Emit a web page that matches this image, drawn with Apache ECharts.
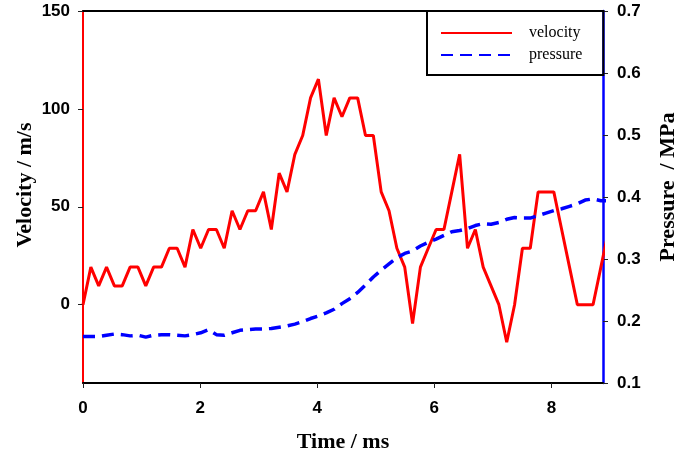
<!DOCTYPE html>
<html>
<head>
<meta charset="utf-8">
<script src="https://cdn.jsdelivr.net/npm/echarts@6/dist/echarts.min.js"></script>
<style>
  html, body { margin: 0; padding: 0; background: #fff; }
  #main { width: 675px; height: 457px; }
</style>
</head>
<body>
<div id="main"></div>
<script>
// 时间 ms
var timeMs = [0, 0.134, 0.268, 0.402, 0.536, 0.67, 0.804, 0.938, 1.072, 1.206,
  1.34, 1.474, 1.608, 1.742, 1.876, 2.01, 2.144, 2.278, 2.412, 2.546,
  2.68, 2.814, 2.948, 3.082, 3.216, 3.35, 3.484, 3.618, 3.752, 3.886,
  4.02, 4.154, 4.288, 4.422, 4.556, 4.69, 4.824, 4.958, 5.092, 5.226,
  5.36, 5.494, 5.628, 5.762, 5.896, 6.03, 6.164, 6.298, 6.432, 6.566,
  6.7, 6.834, 6.968, 7.102, 7.236, 7.37, 7.504, 7.638, 7.772, 7.906,
  8.04, 8.174, 8.308, 8.442, 8.576, 8.71, 8.844, 8.978];
// 速度 m/s
var velocity = [0, 19.2, 9.6, 19.2, 9.6, 9.6, 19.2, 19.2, 9.6, 19.2,
  19.2, 28.8, 28.8, 19.2, 38.4, 28.8, 38.4, 38.4, 28.8, 48,
  38.4, 48, 48, 57.6, 38.4, 67.2, 57.6, 76.8, 86.4, 105.6,
  115.2, 86.4, 105.6, 96, 105.6, 105.6, 86.4, 86.4, 57.6, 48,
  28.8, 19.2, -9.6, 19.2, 28.8, 38.4, 38.4, 57.6, 76.8, 28.8,
  38.4, 19.2, 9.6, 0, -19.2, 0, 28.8, 28.8, 57.6, 57.6,
  57.6, 38.4, 19.2, 0, 0, 0, 19.2, 38.4];
// 压力 MPa
var pressure = [0.175, 0.175, 0.175, 0.177, 0.179, 0.178, 0.176, 0.177, 0.174, 0.177,
  0.178, 0.178, 0.177, 0.176, 0.178, 0.181, 0.186, 0.178, 0.177, 0.181,
  0.185, 0.186, 0.187, 0.187, 0.188, 0.19, 0.192, 0.195, 0.199, 0.204,
  0.208, 0.213, 0.219, 0.228, 0.236, 0.246, 0.258, 0.271, 0.282, 0.292,
  0.302, 0.309, 0.313, 0.321, 0.327, 0.332, 0.338, 0.344, 0.346, 0.349,
  0.354, 0.357, 0.356, 0.359, 0.364, 0.367, 0.366, 0.366, 0.37, 0.374,
  0.378, 0.381, 0.385, 0.389, 0.395, 0.397, 0.394, 0.394];
var timeTicks = [0, 2, 4, 6, 8];
var velocityTicks = [0, 50, 100, 150];

var myChart = echarts.init(document.getElementById('main'));

var tickFont = { color: '#000', fontFamily: 'Liberation Sans', fontWeight: 'bold', fontSize: 17 };
var nameFont = { color: '#000', fontFamily: 'Liberation Serif', fontWeight: 'bold', fontSize: 22 };

var option = {
  animation: false,
  grid: { left: 83, right: 72, top: 11, bottom: 74, outerBoundsMode: 'none' },
  legend: {
    orient: 'vertical',
    left: 427,
    top: 11,
    padding: [14, 21, 12, 13],
    borderColor: '#000',
    borderWidth: 2,
    itemWidth: 71,
    itemHeight: 14,
    itemGap: 6,
    itemStyle: { opacity: 0, borderWidth: 0 }, // 图例只显示线
    textStyle: { color: '#000', fontFamily: 'Liberation Serif', fontSize: 16, padding: [0, 0, 0, 12] },
    data: ['velocity', 'pressure']
  },
  xAxis: [{
    type: 'value',
    min: 0,
    max: 8.88,
    name: 'Time / ms',
    nameLocation: 'middle',
    nameGap: 48,
    nameMoveOverlap: false,
    nameTextStyle: nameFont,
    axisLine: { onZero: false, lineStyle: { color: '#000', width: 2 } },
    axisTick: { length: 5, customValues: timeTicks, lineStyle: { color: '#222' } },
    axisLabel: Object.assign({ margin: 17, customValues: timeTicks }, tickFont),
    splitLine: { show: false }
  }, {
    // 顶部边框
    type: 'value',
    position: 'top',
    min: 0,
    max: 8.88,
    axisLine: { onZero: false, lineStyle: { color: '#000', width: 2 } },
    axisTick: { show: false },
    axisLabel: { show: false },
    splitLine: { show: false }
  }],
  yAxis: [{
    type: 'value',
    position: 'left',
    min: -40,
    max: 150,
    name: 'Velocity / m/s',
    nameLocation: 'middle',
    nameGap: 47,
    nameMoveOverlap: false,
    nameTextStyle: Object.assign({ padding: [0, 0, 0, 24] }, nameFont),
    axisLine: { show: true, onZero: false, lineStyle: { color: '#ff0000', width: 2 } },
    axisTick: { show: true, length: 5, customValues: velocityTicks, lineStyle: { color: '#222' } },
    axisLabel: Object.assign({ margin: 13, customValues: velocityTicks }, tickFont),
    splitLine: { show: false }
  }, {
    type: 'value',
    position: 'right',
    min: 0.1,
    max: 0.7,
    interval: 0.1,
    name: 'Pressure  / MPa',
    nameLocation: 'middle',
    nameGap: 54,
    nameRotate: 90,
    nameMoveOverlap: false,
    nameTextStyle: Object.assign({ padding: [0, 0, 0, 20] }, nameFont),
    axisLine: { show: true, onZero: false, lineStyle: { color: '#0000ff', width: 2.5 } },
    axisTick: { show: true, length: 5, lineStyle: { color: '#222' } },
    axisLabel: Object.assign({ margin: 14, formatter: function (v) { return v.toFixed(1); } }, tickFont),
    splitLine: { show: false }
  }],
  series: [{
    name: 'velocity',
    type: 'line',
    xAxisIndex: 0,
    yAxisIndex: 0,
    symbol: 'none',
    color: '#ff0000',
    lineStyle: { color: '#ff0000', width: 3 },
    data: timeMs.map(function (t, i) { return [t, velocity[i]]; })
  }, {
    name: 'pressure',
    type: 'line',
    xAxisIndex: 0,
    yAxisIndex: 1,
    symbol: 'none',
    color: '#0000ff',
    lineStyle: { color: '#0000ff', width: 3.5, type: [12, 7] },
    data: timeMs.map(function (t, i) { return [t, pressure[i]]; })
  }]
};
myChart.setOption(option);
</script>
</body>
</html>
